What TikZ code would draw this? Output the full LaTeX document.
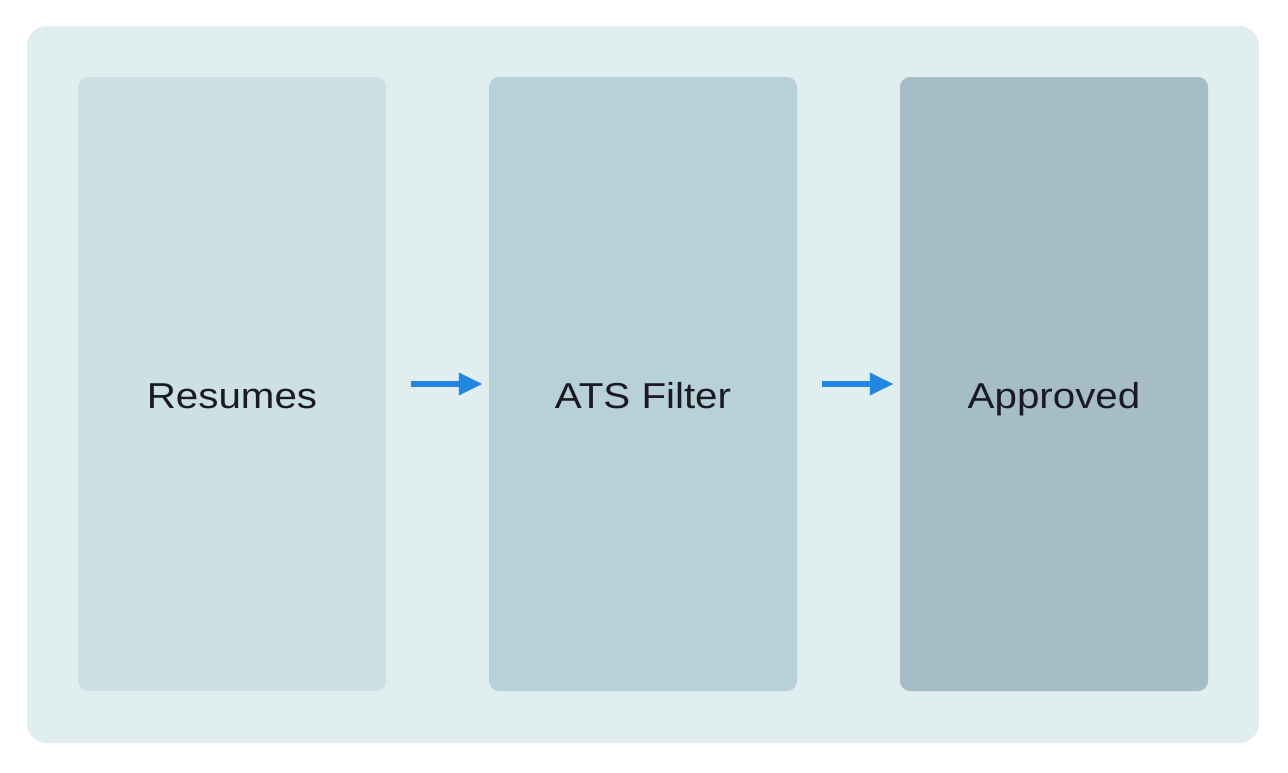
\documentclass[tikz,border=0pt]{standalone}
\usepackage{fontspec}
\setmainfont{Liberation Sans}
\usetikzlibrary{arrows.meta}
\definecolor{outerbg}{HTML}{E0EEF0}
\definecolor{boxa}{HTML}{CDE0E6}
\definecolor{boxb}{HTML}{B8D1D8}
\definecolor{boxc}{HTML}{A6BCC6}
\definecolor{arrowblue}{HTML}{2286E2}
\definecolor{txt}{HTML}{1A1A24}
\tikzset{
  stage/.style={rounded corners=10pt, minimum width=308pt, minimum height=614pt, inner sep=0pt},
  label/.style={text=txt, font=\fontsize{36}{40}\selectfont, xscale=1.12, anchor=base},
  flow/.style={draw=arrowblue, line width=6.5pt, -{Triangle[length=24pt,width=21pt]}, shorten <=25pt, shorten >=6pt}
}
\begin{document}
\begin{tikzpicture}[x=1pt,y=-1pt]
\useasboundingbox (0,0) rectangle (1288,772);
\fill[white] (0,0) rectangle (1288,772);
\fill[outerbg, rounded corners=20pt] (27,26) rectangle (1259,743);
\node[stage, fill=boxa] (resumes) at (232,384) {};
\node[stage, fill=boxb] (ats) at (643,384) {};
\node[stage, fill=boxc] (approved) at (1054,384) {};
\node[label] (tres) at (232,408) {Resumes};
\node[label] (tats) at (643,408) {ATS Filter};
\node[label] (tapp) at (1054,408) {Approved};
\draw[flow] (resumes.east) -- (ats.west);
\draw[flow] (ats.east) -- (approved.west);
\end{tikzpicture}
\end{document}
